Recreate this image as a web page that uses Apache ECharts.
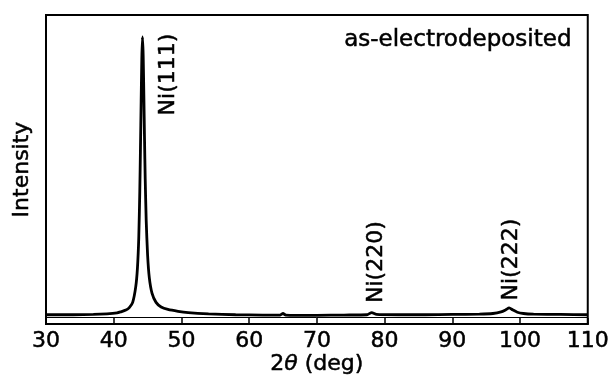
<!DOCTYPE html>
<html>
<head>
<meta charset="utf-8">
<script src="https://cdn.jsdelivr.net/npm/echarts@6/dist/echarts.min.js"></script>
<style>
  html, body { margin: 0; padding: 0; background: #fff; }
  #chart { width: 612px; height: 384px; }
</style>
</head>
<body>
<div id="chart"></div>
<script>
// XRD scan, 2theta (deg) vs intensity (arb. units, 0-100 scale)
const twoTheta = [30, 34, 37, 39, 40.5, 41, 41.8, 42.3, 42.8, 43.25, 43.5, 43.7, 43.85, 43.95, 44.05, 44.15, 44.25,
  44.35, 44.45, 44.55, 44.65, 44.8, 45, 45.25, 45.65, 46.25, 47, 48, 49.5, 51, 54, 58, 62, 64.6, 65, 65.4,
  70, 74, 77.4, 78.1, 78.8, 82, 86, 90, 94, 96, 97.2, 97.9, 98.4, 98.9, 99.6, 100.5, 102, 106, 110]
const intensity = [3.0, 3.0, 3.1, 3.3, 3.6, 3.9, 4.5, 5.3, 7.0, 12.0, 18.0, 28.0, 43.0, 57.0, 72.0, 86.0, 92.9,
  87.0, 74.0, 59.6, 47.0, 33.3, 22.4, 15.1, 10.0, 7.0, 5.5, 4.7, 4.1, 3.7, 3.3, 3.0, 2.9, 2.9, 3.4, 2.9,
  2.8, 2.9, 3.0, 3.7, 3.1, 3.0, 3.0, 3.1, 3.2, 3.4, 3.9, 4.6, 5.2, 4.6, 3.8, 3.4, 3.2, 3.1, 3.0]

// peak labels
const peakNames = ['Ni(111)', 'Ni(220)', 'Ni(222)']
const peakLabelX = [48.05, 78.7, 98.65]
const peakLabelY = [67.5, 6.8, 7.6]

const xTicks = [30, 40, 50, 60, 70, 80, 90, 100, 110]

const font = 'DejaVu Sans'
// scanned figure: text looks a bit heavier than a plain regular face
const ink = { color: '#000', textBorderColor: '#000', textBorderWidth: 0.5 }
const chart = echarts.init(document.getElementById('chart'))

const option = {
  animation: false,
  backgroundColor: '#fff',
  title: {
    text: 'as-electrodeposited',
    right: 35,
    top: 24,
    textStyle: { fontFamily: font, fontSize: 23, fontWeight: 'normal', ...ink }
  },
  grid: {
    left: 46, right: 21, top: 15, bottom: 60,
    show: true, borderColor: '#000', borderWidth: 2, backgroundColor: 'transparent'
  },
  xAxis: {
    type: 'value',
    min: xTicks[0],
    max: xTicks[xTicks.length - 1],
    interval: 10,
    name: '2{i|θ} (deg)',
    nameLocation: 'middle',
    nameGap: 29,
    nameMoveOverlap: false,
    nameTextStyle: {
      fontFamily: font, fontSize: 22, ...ink,
      rich: { i: { fontFamily: font, fontSize: 22, fontStyle: 'italic', ...ink } }
    },
    axisLine: { show: true, lineStyle: { color: '#000', width: 2 } },
    axisTick: { show: true, inside: true, length: 6, lineStyle: { color: '#000', width: 1.5 } },
    axisLabel: { fontFamily: font, fontSize: 22, margin: 6, ...ink },
    splitLine: { show: false }
  },
  yAxis: {
    type: 'value',
    min: 0,
    max: 100,
    name: 'Intensity',
    nameLocation: 'middle',
    nameGap: 13,
    nameTextStyle: { fontFamily: font, fontSize: 22, ...ink },
    axisLine: { show: true, lineStyle: { color: '#000', width: 2 } },
    axisTick: { show: false },
    axisLabel: { show: false },
    splitLine: { show: false }
  },
  series: [
    {
      type: 'line',
      data: twoTheta.map((x, i) => [x, intensity[i]]),
      showSymbol: false,
      smooth: 0.2,
      lineStyle: { color: '#000', width: 2.8 },
      markLine: {
        silent: true,
        symbol: 'none',
        label: { show: false },
        lineStyle: { color: '#000', width: 1, type: 'solid' },
        data: [{ yAxis: 2.1 }]
      }
    },
    {
      type: 'scatter',
      symbolSize: 0,
      itemStyle: { opacity: 1 },
      data: peakNames.map((n, i) => ({ name: n, value: [peakLabelX[i], peakLabelY[i]] })),
      label: {
        show: true,
        position: 'inside',
        rotate: 90,
        align: 'left',
        verticalAlign: 'middle',
        formatter: p => p.name,
        fontFamily: font,
        fontSize: 22,
        ...ink
      }
    }
  ]
}
chart.setOption(option)
</script>
</body>
</html>
